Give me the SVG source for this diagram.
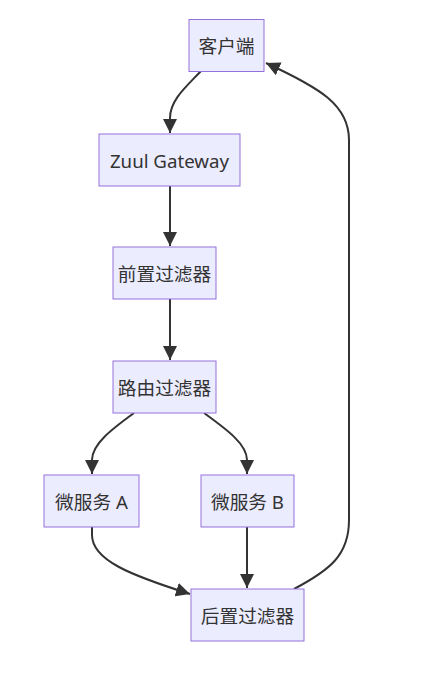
<svg xmlns="http://www.w3.org/2000/svg" width="439" height="681" viewBox="0 0 439 681">
<style>
.node rect{fill:#ECECFF;stroke:#9370DB;stroke-width:1}
.node text{font-family:"Noto Sans","Noto Sans CJK SC",sans-serif;font-size:18.7px;fill:#333;text-anchor:middle;dominant-baseline:central}
.edge{fill:none;stroke:#333;stroke-width:2;marker-end:url(#arrow)}
</style>
<defs>
<marker id="arrow" viewBox="0 0 10 10" refX="10" refY="5" markerWidth="14" markerHeight="14" markerUnits="userSpaceOnUse" orient="auto">
<path d="M0,0 L10,5 L0,10 z" fill="#333"/>
</marker>
</defs>
<rect width="439" height="681" fill="#fff"/>
<g id="edges">
<path class="edge" d="M201,71 C186,87 170,100 170,118 L170,133"/>
<path class="edge" d="M170,186 L170,246"/>
<path class="edge" d="M170,299 L170,360"/>
<path class="edge" d="M134,413 C112,429 92,444 92,460 L92,474"/>
<path class="edge" d="M204,413 C226,429 247,444 247,460 L247,474"/>
<path class="edge" d="M92,527 L92,535 C92,560 130,575 190,594"/>
<path class="edge" d="M247,527 L247,588"/>
<path class="edge" d="M294,589 C330,570 349,555 349,520 L349,140 C349,105 320,88 266,63"/>
</g>
<g id="client" class="node"><rect x="189" y="19.5" width="75" height="52"/><text x="226.5" y="45.5">客户端</text></g>
<g id="gateway" class="node"><rect x="99" y="134" width="141" height="52"/><text x="169.5" y="160">Zuul Gateway</text></g>
<g id="pre" class="node"><rect x="113" y="247" width="103" height="52"/><text x="164.5" y="273">前置过滤器</text></g>
<g id="route" class="node"><rect x="113" y="361" width="103" height="52"/><text x="164.5" y="387">路由过滤器</text></g>
<g id="svcA" class="node"><rect x="44" y="475" width="95" height="52"/><text x="91.5" y="501">微服务 A</text></g>
<g id="svcB" class="node"><rect x="201" y="475" width="93" height="52"/><text x="247.5" y="501">微服务 B</text></g>
<g id="post" class="node"><rect x="191" y="589" width="113" height="52"/><text x="247.5" y="615">后置过滤器</text></g>
</svg>
